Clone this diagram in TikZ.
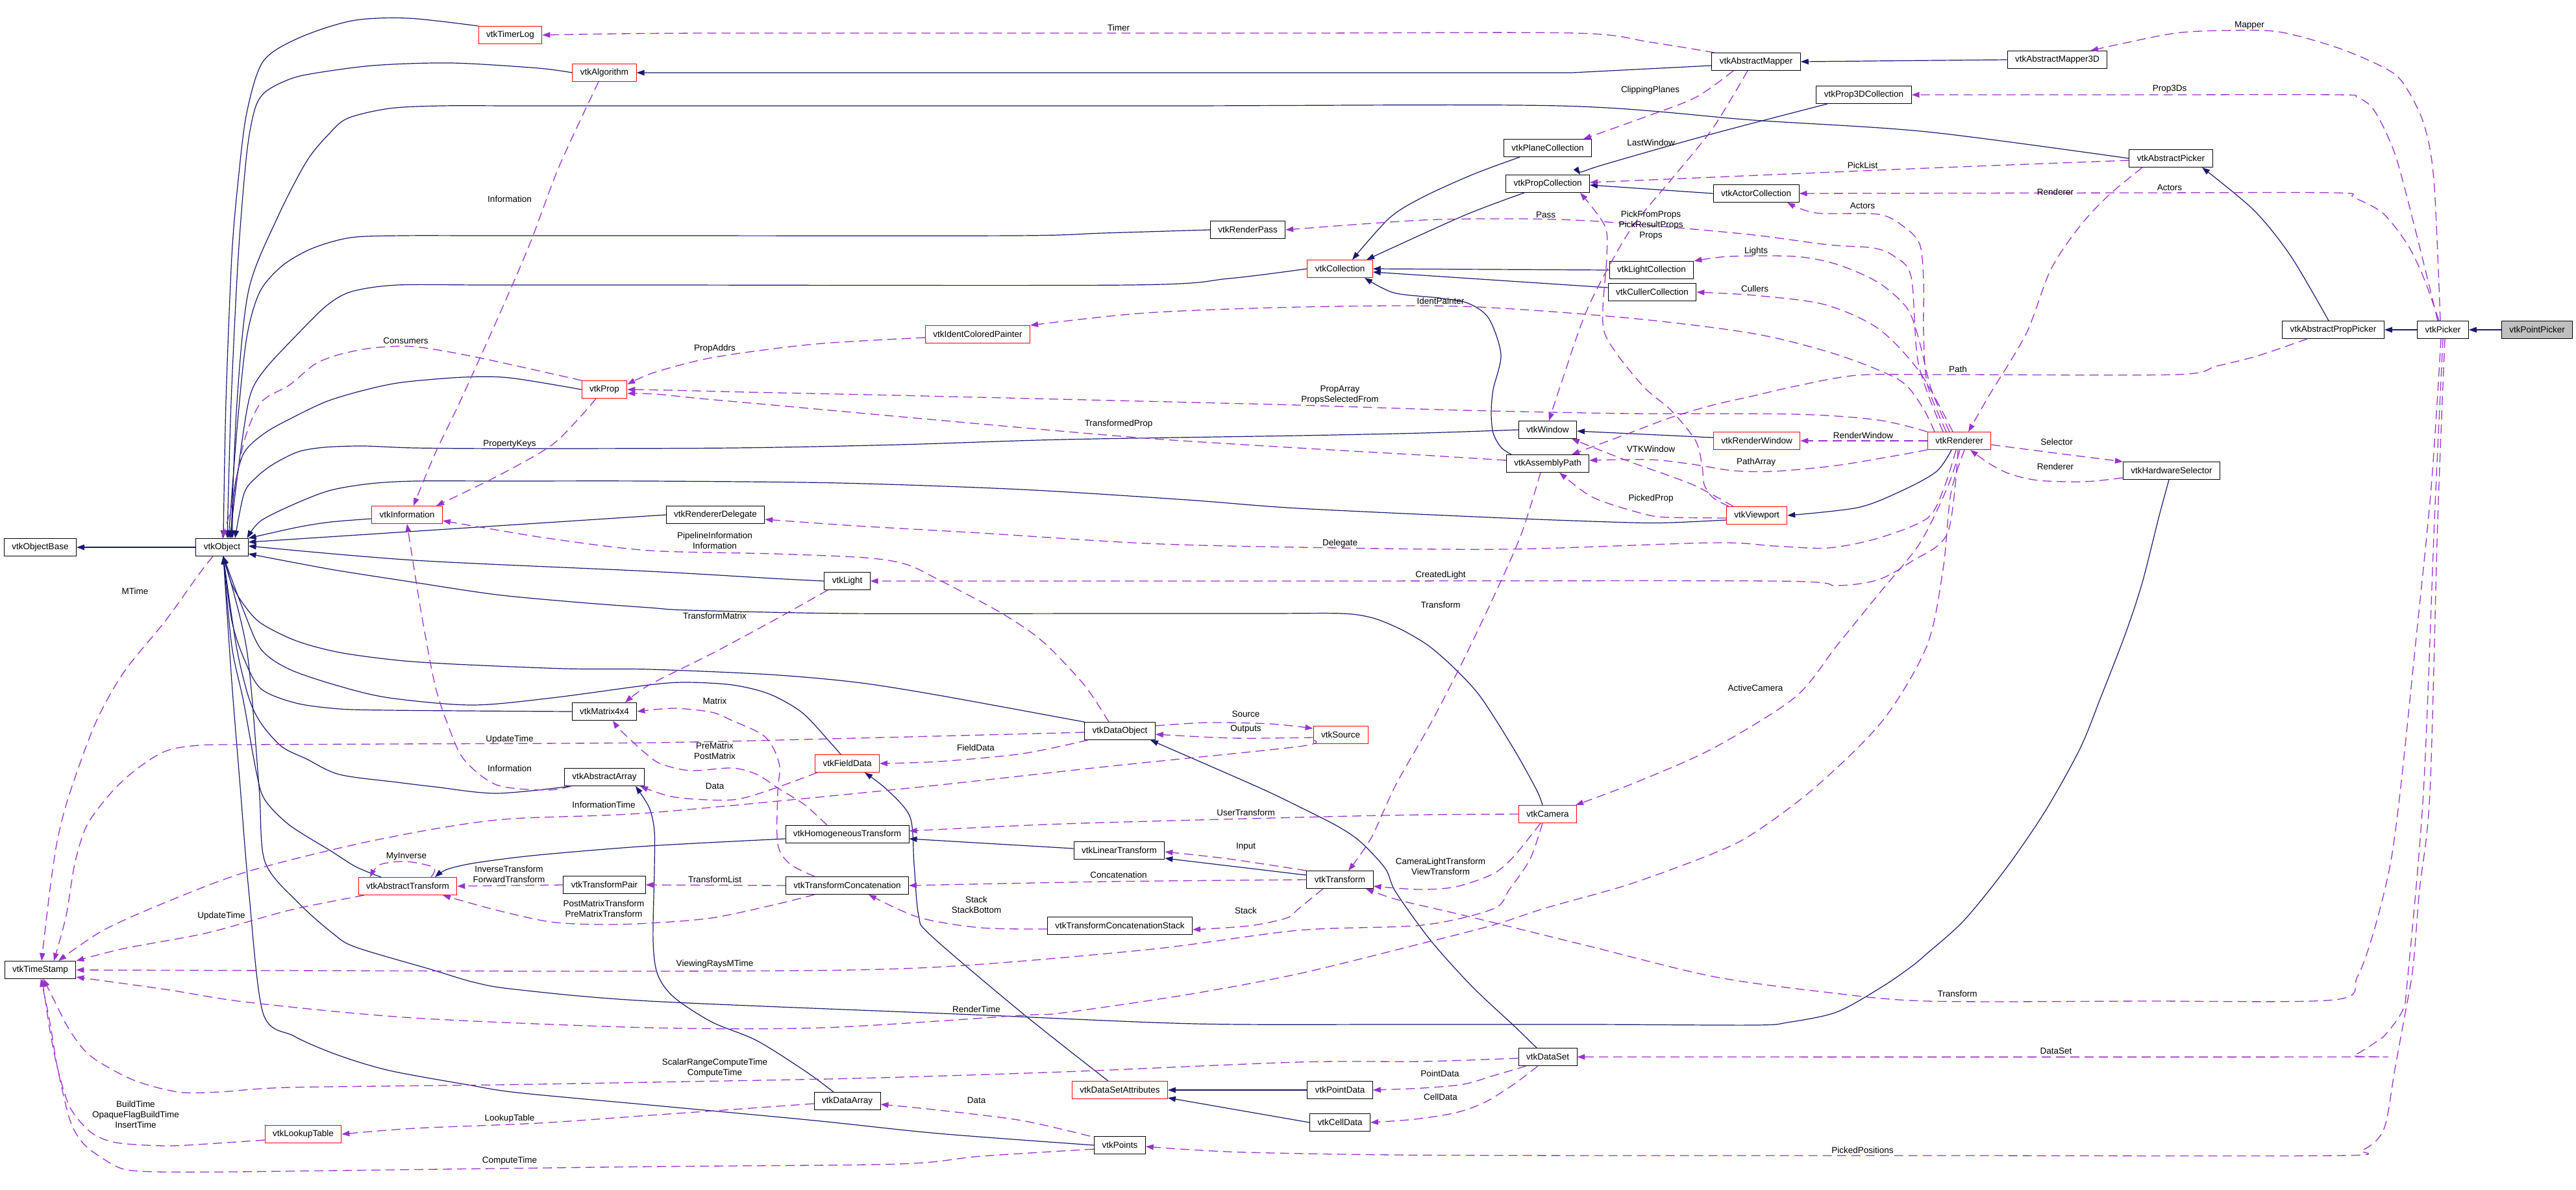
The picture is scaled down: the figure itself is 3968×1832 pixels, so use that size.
\documentclass[tikz,border=0pt]{standalone}
\usepackage{fontspec}
\setmainfont{Liberation Sans}
\usetikzlibrary{arrows.meta}
\definecolor{navy}{HTML}{191970}
\definecolor{orchid}{HTML}{9A32CD}
\definecolor{leafgray}{HTML}{BFBFBF}

\begin{document}
\begin{tikzpicture}[ x = 1pt, y = -1pt
                     , font = \fontsize{13.5}{16}\selectfont
                     , >={Triangle[length=12pt, width=8.5pt]}
                     , cls/.style = { rectangle
                                    , draw = black
                                    , line width = 0.9pt
                                    , minimum height = 27pt
                                    , inner xsep = 12pt
                                    , inner ysep = 0pt }
                     , redcls/.style = {cls, draw = red}
                     , inherit/.style = {draw = navy, line width = 1.2pt, ->}
                     , uses/.style = { draw = orchid
                                     , line width = 1.3pt
                                     , dash pattern = on 14pt off 8pt
                                     , -> }
                     , lbl/.style = {align = center, inner sep = 0pt}
                     ]
  \useasboundingbox (0,0) rectangle (3968,1832);

  %%
  %% Classes
  %%
  \node[cls]    (objbase)        at (62,843)    {vtkObjectBase};
  \node[cls]    (object)         at (342,843)   {vtkObject};
  \node[redcls] (timerlog)       at (786,54)    {vtkTimerLog};
  \node[redcls] (algorithm)      at (931,112)   {vtkAlgorithm};
  \node[redcls] (prop)           at (931,600)   {vtkProp};
  \node[redcls] (information)    at (627,793)   {vtkInformation};
  \node[cls]    (matrix)         at (931,1096)  {vtkMatrix4x4};
  \node[cls]    (absarray)       at (931,1197)  {vtkAbstractArray};
  \node[cls]    (renderpass)     at (1922,354)  {vtkRenderPass};
  \node[redcls] (identpainter)   at (1506,515)  {vtkIdentColoredPainter};
  \node[cls]    (absmapper)      at (2705,95)   {vtkAbstractMapper};
  \node[cls]    (prop3dcoll)     at (2871,146)  {vtkProp3DCollection};
  \node[cls]    (planecoll)      at (2384,228)  {vtkPlaneCollection};
  \node[cls]    (propcoll)       at (2384,283)  {vtkPropCollection};
  \node[cls]    (actorcoll)      at (2705,298)  {vtkActorCollection};
  \node[redcls] (collection)     at (2064,414)  {vtkCollection};
  \node[cls]    (lightcoll)      at (2544,416)  {vtkLightCollection};
  \node[cls]    (cullercoll)     at (2545,450)  {vtkCullerCollection};
  \node[cls]    (absmapper3d)    at (3169,92)   {vtkAbstractMapper3D};
  \node[cls]    (abspicker)      at (3344,244)  {vtkAbstractPicker};
  \node[cls]    (abspproppicker) at (3594,508)  {vtkAbstractPropPicker};
  \node[cls]    (picker)         at (3763,508)  {vtkPicker};
  \node[cls, fill = leafgray] (pointpicker) at (3908,508) {vtkPointPicker};
  \node[cls]    (delegate)       at (1102,793)  {vtkRendererDelegate};
  \node[cls]    (light)          at (1305,895)  {vtkLight};
  \node[cls]    (dataobject)     at (1725,1126) {vtkDataObject};
  \node[redcls] (fielddata)      at (1305,1176) {vtkFieldData};
  \node[cls]    (window)         at (2384,662)  {vtkWindow};
  \node[redcls] (renderwindow)   at (2706,679)  {vtkRenderWindow};
  \node[cls]    (assemblypath)   at (2384,714)  {vtkAssemblyPath};
  \node[redcls] (viewport)       at (2706,794)  {vtkViewport};
  \node[redcls] (source)         at (2065,1132) {vtkSource};
  \node[redcls] (renderer)       at (3018,679)  {vtkRenderer};
  \node[cls]    (hwselector)     at (3345,725)  {vtkHardwareSelector};
  \node[redcls] (abstransform)   at (628,1365)  {vtkAbstractTransform};
  \node[cls]    (transformpair)  at (931,1363)  {vtkTransformPair};
  \node[cls]    (timestamp)      at (62,1494)   {vtkTimeStamp};
  \node[redcls] (lookuptable)    at (467,1747)  {vtkLookupTable};
  \node[cls]    (homogtransform) at (1305,1285) {vtkHomogeneousTransform};
  \node[cls]    (lineartransform) at (1724,1310) {vtkLinearTransform};
  \node[cls]    (transconcat)    at (1305,1364) {vtkTransformConcatenation};
  \node[cls]    (concatstack)    at (1725,1426) {vtkTransformConcatenationStack};
  \node[redcls] (datasetattr)    at (1725,1679) {vtkDataSetAttributes};
  \node[cls]    (dataarray)      at (1305,1696) {vtkDataArray};
  \node[cls]    (points)         at (1725,1764) {vtkPoints};
  \node[redcls] (camera)         at (2384,1254) {vtkCamera};
  \node[cls]    (transform)      at (2064,1355) {vtkTransform};
  \node[cls]    (dataset)        at (2384,1628) {vtkDataSet};
  \node[cls]    (pointdata)      at (2064,1679) {vtkPointData};
  \node[cls]    (celldata)       at (2064,1729) {vtkCellData};

  %%
  %% Inheritance (solid)
  %%
  \draw[inherit] (object.west) -- (objbase.east);
  \draw[inherit] plot[smooth] coordinates {(timerlog.north west) (628,28) (542,32) (459,59) (405,95) (380,174) (367,277) (357,395) (348,620) ([xshift=2pt]object.north)};
  \draw[inherit] plot[smooth] coordinates {(algorithm.west) (829,105) (695,97) (574,101) (472,115) (434,127) (406,144) (392,170) (380,237) (367,395) (356,620) ([xshift=8pt]object.north)};
  \draw[inherit] plot[smooth] coordinates {(abspicker.west) (2968,203) (2700,185) (2402,163) (1800,163) (1000,163) (800,163) (680,163) (600,167) (536,182) (507,206) (472,249) (427,336) (383,447) (365,620) ([xshift=14pt]object.north)};
  \draw[inherit] plot[smooth] coordinates {(renderpass.west) (1700,359) (1561,363) (1000,363) (750,363) (620,363) (540,366) (480,383) (434,410) (400,450) (380,520) (366,650) ([xshift=10pt]object.north)};
  \draw[inherit] plot[smooth] coordinates {(collection.west) (1893,429) (1739,439) (1000,439) (750,439) (612,439) (542,449) (504,470) (459,514) (408,569) (385,610) (370,700) ([xshift=12pt]object.north)};
  \draw[inherit] plot[smooth] coordinates {(prop.west) (785,582) (714,581) (619,589) (561,601) (504,618) (453,642) (408,667) (375,699) (360,760) ([xshift=16pt]object.north)};
  \draw[inherit] plot[smooth] coordinates {(window.west) (2191,667) (2000,671) (1638,677) (1383,685) (1128,690) (800,691) (640,690) (560,687) (500,689) (459,696) (421,715) (395,735) (376,760) ([xshift=20pt]object.north)};
  \draw[inherit] plot[smooth] coordinates {([yshift=-7pt]viewport.west) (2574,805) (2513,805) (2319,798) (2000,783) (1829,770) (1574,754) (1293,744) (1000,741) (780,741) (640,741) (570,745) (510,755) (459,774) (402,802) ([xshift=-2pt]object.north east)};
  \draw[inherit] plot[smooth] coordinates {([yshift=-6pt]information.west) (510,804) (459,812) (object.north east)};
  \draw[inherit] (delegate.west) -- ([yshift=-6pt]object.north east);
  \draw[inherit] plot[smooth] coordinates {(light.west) (1191,891) (1000,880) (638,863) ([yshift=2pt]object.east)};
  \draw[inherit] plot[smooth] coordinates {([xshift=-8pt]camera.north) (2367,1217) (2332,1154) (2281,1074) (2242,1031) (2201,995) (2159,970) (2115,952) (2067,945) (1950,945) (1700,945) (1309,945) (1064,940) (1000,936) (893,928) (765,916) (638,897) (510,877) ([yshift=-10pt]object.east)};
  \draw[inherit] plot[smooth] coordinates {(dataobject.north west) (1446,1071) (1319,1051) (1185,1039) (1000,1031) (871,1030) (700,1023) (612,1017) (523,1005) (456,987) (402,960) (376,932) (357,900) ([xshift=2pt]object.south)};
  \draw[inherit] plot[smooth] coordinates {(matrix.west) (720,1095) (600,1094) (523,1092) (456,1083) (402,1061) (376,1015) (357,956) ([xshift=2pt]object.south)};
  \draw[inherit] plot[smooth] coordinates {([xshift=-10pt]fielddata.north) (1281,1146) (1236,1098) (1185,1069) (1128,1055) (1057,1051) (1000,1055) (850,1075) (727,1086) (600,1075) (523,1057) (446,1031) (402,1000) (375,940) ([xshift=2pt]object.south)};
  \draw[inherit] plot[smooth] coordinates {([xshift=-51pt]absarray.south) (765,1222) (670,1212) (612,1205) (523,1193) (472,1169) (434,1150) (402,1114) (383,1074) (364,995) ([xshift=2pt]object.south)};
  \draw[inherit] plot[smooth] coordinates {([xshift=-41pt]abstransform.north) (548,1335) (510,1311) (446,1271) (408,1232) (395,1190) (375,1080) (357,995) ([xshift=2pt]object.south)};
  \draw[inherit] plot[smooth] coordinates {(points.west) (1446,1746) (1255,1726) (1000,1702) (797,1683) (721,1671) (600,1649) (520,1625) (453,1596) (405,1560) (383,1370) (370,1212) (357,1050) ([xshift=2pt]object.south)};
  \draw[inherit] plot[smooth] coordinates {([xshift=-4pt]hwselector.south) (3325,798) (3300,897) (3274,976) (3236,1074) (3204,1153) (3150,1250) (3089,1339) (3025,1418) (2968,1469) (2944,1489) (2899,1520) (2829,1559) (2753,1575) (2702,1579) (2450,1578) (2150,1578) (1842,1577) (1500,1563) (1000,1542) (794,1524) (730,1513) (663,1493) (548,1459) (513,1438) (459,1390) (408,1327) (399,1212) (380,1000) ([xshift=2pt]object.south)};
  \draw[inherit] ([yshift=-6pt]absmapper.west) -- (2421,112) -- (algorithm.east);
  \draw[inherit] (absmapper3d.west) -- (absmapper.east);
  \draw[inherit] plot[smooth] coordinates {([xshift=-43pt]planecoll.south) (2268,269) (2191,304) (2140,336) ([xshift=19pt]collection.north)};
  \draw[inherit] plot[smooth] coordinates {([xshift=-36pt]propcoll.south) (2255,332) ([xshift=41pt]collection.north)};
  \draw[inherit] plot[smooth] coordinates {([xshift=-56pt]prop3dcoll.south) (2631,208) (2459,257) ([xshift=50pt]propcoll.north)};
  \draw[inherit] (actorcoll.west) -- ([yshift=-2pt]propcoll.east);
  \draw[inherit] (lightcoll.west) -- (collection.east);
  \draw[inherit] ([yshift=7pt]cullercoll.west) -- ([yshift=-5pt]collection.east);
  \draw[inherit] plot[smooth] coordinates {([xshift=-56pt]assemblypath.north) (2312,689) (2300,667) (2297,636) (2300,600) (2312,546) (2293,490) (2261,467) (2217,459) (2147,451) ([xshift=38pt]collection.south)};
  \draw[inherit] ([yshift=5pt]renderwindow.west) -- ([yshift=-2pt]window.east);
  \draw[inherit] plot[smooth] coordinates {([xshift=-12pt]renderer.south) (2982,727) (2925,758) (2861,782) (viewport.east)};
  \draw[inherit] plot[smooth] coordinates {([xshift=-7pt]abspproppicker.north) (3529,395) (3472,324) ([xshift=48pt]abspicker.south)};
  \draw[inherit] (picker.west) -- (abspproppicker.east);
  \draw[inherit] (pointpicker.west) -- (picker.east);
  \draw[inherit] plot[smooth] coordinates {([yshift=-7pt]homogtransform.west) (1000,1303) (829,1317) (733,1329) (689,1339) ([xshift=42pt]abstransform.north)};
  \draw[inherit] ([yshift=3pt]lineartransform.west) -- ([yshift=-7pt]homogtransform.east);
  \draw[inherit] ([yshift=7pt]transform.west) -- ([yshift=-12pt]lineartransform.east);
  \draw[inherit] plot[smooth] coordinates {([xshift=-21pt]dataarray.north) (1242,1651) (1166,1603) (1096,1574) (1038,1536) (1013,1501) (1006,1449) (1008,1340) (1008,1280) (1000,1244) ([xshift=48pt]absarray.south)};
  \draw[inherit] plot[smooth] coordinates {([xshift=-18pt]datasetattr.north) (1574,1560) (1434,1441) (1415,1410) (1408,1331) (1402,1259) (1367,1217) ([xshift=27pt]fielddata.south)};
  \draw[inherit] (pointdata.west) -- (datasetattr.east);
  \draw[inherit] (celldata.west) -- ([yshift=-12pt]datasetattr.east);
  \draw[inherit] plot[smooth] coordinates {([xshift=-17pt]dataset.north) (2332,1580) (2268,1520) (2204,1449) (2150,1374) (2134,1338) (2096,1297) (2061,1273) (2000,1242) (1937,1212) ([xshift=47pt]dataobject.south)};

  %%
  %% Usage (dashed), arrow points at the used class
  %%
  \draw[uses] plot[smooth] coordinates {([xshift=-64pt]absmapper.north) (2542,65) (2427,51) (2000,51) (1500,51) (1100,51) (950,52) (timerlog.east)};
  \draw[uses] plot[smooth] coordinates {([xshift=-35pt]absmapper.south) (2612,150) (2529,182) ([xshift=55pt]planecoll.north)};
  \draw[uses] plot[smooth] coordinates {([xshift=-13pt]absmapper.south) (2638,198) (2574,277) (2510,356) (2446,474) (2405,590) ([xshift=2pt]window.north)};
  \draw[uses] plot[smooth] coordinates {([xshift=-4pt]picker.north) (3749,277) (3733,189) (3701,127) (3670,103) (3599,73) (3510,49) (3427,47) (3351,51) (3265,68) ([xshift=51pt]absmapper3d.north)};
  \draw[uses] plot[smooth] coordinates {([xshift=-8pt]picker.north) (3721,356) (3689,237) (3657,170) (3631,150) (3599,146) (3300,146) (prop3dcoll.east)};
  \draw[uses] plot[smooth] coordinates {([xshift=-6pt]picker.north) (3733,427) (3708,376) (3670,328) (3625,304) (3599,297) (3300,297) (actorcoll.east)};
  \draw[uses] plot[smooth] coordinates {([xshift=-44pt]abspicker.south) (3249,300) (3204,348) (3159,415) (3121,514) (3064,609) ([xshift=14pt]renderer.north)};
  \draw[uses] plot[smooth] coordinates {([yshift=-3pt]abspicker.west) (2968,259) (2638,273) ([yshift=2pt]propcoll.east)};
  \draw[uses] plot[smooth] coordinates {([xshift=-43pt]viewport.north) (2638,766) (2625,746) (2622,719) (2612,679) (2574,632) (2536,600) (2497,554) (2472,514) (2469,474) (2475,395) (2472,348) ([xshift=50pt]propcoll.south)};
  \draw[uses] plot[smooth] coordinates {([xshift=-20pt]renderer.north) (2969,593) (2963,514) (2963,435) (2957,376) (2931,348) (2893,330) (2797,328) ([xshift=48pt]actorcoll.south)};
  \draw[uses] plot[smooth] coordinates {([xshift=-25pt]renderer.north) (2955,560) (2944,427) (2918,395) (2886,382) (2816,377) (2702,362) (2574,350) (2446,340) (2338,337) (2191,339) (renderpass.east)};
  \draw[uses] plot[smooth] coordinates {([xshift=-15pt]renderer.north) (2975,600) (2955,520) (2937,474) (2893,435) (2829,407) (2765,395) (2663,395) (lightcoll.north east)};
  \draw[uses] plot[smooth] coordinates {([xshift=-10pt]renderer.north) (2957,573) (2893,506) (2810,469) (2703,455) (cullercoll.east)};
  \draw[uses] plot[smooth] coordinates {([xshift=-38pt]renderer.north) (2960,625) (2925,585) (2829,546) (2702,514) (2510,490) (2255,472) (2000,473) (1765,482) (identpainter.north east)};
  \draw[uses] plot[smooth] coordinates {([yshift=-5pt]identpainter.west) (1255,530) (1102,550) (1010,573) ([yshift=8pt]prop.east)};
  \draw[uses] plot[smooth] coordinates {([xshift=-35pt]prop.north) (733,550) (638,534) (574,536) (523,546) (485,561) (446,593) (402,620) (376,680) (357,778) (object.north)};
  \draw[uses] plot[smooth] coordinates {([xshift=-13pt]prop.south) (893,643) (848,687) (765,734) ([xshift=45pt]information.north)};
  \draw[uses] plot[smooth] coordinates {([xshift=-9pt]algorithm.south) (861,257) (816,376) (765,494) (708,620) (670,699) ([xshift=10pt]information.north)};
  \draw[uses] plot[smooth] coordinates {(renderer.north west) (2893,647) (2765,638) (2510,637) (2255,632) (2000,624) (1842,620) (1383,609) (1150,604) (1030,601) (prop.east)};
  \draw[uses] plot[smooth] coordinates {([yshift=5pt]assemblypath.west) (2191,701) (2000,690) (1765,675) (1510,653) (1191,624) (1080,614) (1010,607) ([yshift=-6pt]prop.east)};
  \draw[uses] plot[smooth] coordinates {([xshift=-36pt]viewport.north) (2606,746) (2510,711) ([xshift=37pt]window.south)};
  \draw[uses] (renderer.west) -- (renderwindow.east);
  \draw[uses] plot[smooth] coordinates {(renderer.south west) (2925,701) (2829,717) (2733,726) (2670,725) (2606,715) (2542,708) ([yshift=5pt]assemblypath.east)};
  \draw[uses] plot[smooth] coordinates {([yshift=-4pt]viewport.west) (2574,797) (2542,794) (2485,778) (2446,762) ([xshift=18pt]assemblypath.south)};
  \draw[uses] plot[smooth] coordinates {([xshift=-40pt]abspproppicker.south) (3478,548) (3414,564) (3351,577) (3000,577) (2861,578) (2765,595) (2700,610) (2638,624) (2574,643) (2510,667) ([xshift=37pt]assemblypath.north)};
  \draw[uses] plot[smooth] coordinates {([xshift=-11pt]assemblypath.south) (2344,821) (2306,908) (2255,1015) (2204,1114) (2150,1209) (2112,1291) ([xshift=13pt]transform.north)};
  \draw[uses] plot[smooth] coordinates {([xshift=-5pt]renderer.south) (2995,750) (2969,798) (2893,829) (2816,844) (2733,841) (2638,836) (2319,846) (2000,843) (1765,837) (1510,821) (1319,810) ([yshift=-7pt]delegate.east)};
  \draw[uses] plot[smooth] coordinates {([xshift=-2pt]renderer.south) (3000,821) (2944,865) (2893,893) (2829,902) (2733,895) (2000,895) (light.east)};
  \draw[uses] plot[smooth] coordinates {([xshift=1pt]renderer.south) (3000,750) (2957,837) (2893,916) (2829,995) (2765,1074) (2638,1153) (2520,1205) ([xshift=43pt]camera.north)};
  \draw[uses] plot[smooth] coordinates {([xshift=8pt]renderer.south) (3005,760) (2993,877) (2968,995) (2900,1110) (2797,1212) (2702,1283) (2638,1315) (2510,1362) (2383,1398) (2300,1425) (2191,1453) (2000,1500) (1829,1532) (1638,1560) (1574,1564) (1268,1583) (1000,1583) (638,1568) (383,1544) (255,1524) ([yshift=-11pt]timestamp.east)};
  \draw[uses] plot[smooth] coordinates {([xshift=-8pt]camera.south) (2357,1323) (2325,1370) (2300,1400) (2191,1425) (2000,1433) (1765,1463) (1415,1491) (1000,1496) (timestamp.east)};
  \draw[uses] plot[smooth] coordinates {([xshift=-11pt]camera.south) (2332,1319) (2300,1346) (2242,1366) (2185,1370) ([yshift=-10pt]transform.east)};
  \draw[uses] plot[smooth] coordinates {(camera.west) (2191,1255) (2000,1259) (1638,1269) ([yshift=5pt]homogtransform.east)};
  \draw[uses] plot[smooth] coordinates {([xshift=-3pt]picker.south) (3745,750) (3720,1000) (3698,1212) (3682,1331) (3657,1433) (3631,1505) (3596,1540) (3300,1542) (2968,1542) (2810,1528) (2638,1504) (2446,1457) (2255,1410) (2153,1386) ([xshift=40pt]transform.south)};
  \draw[uses] plot[smooth] coordinates {(picker.south) (3750,800) (3733,1220) (3708,1513) (3701,1556) (3676,1592) (3657,1607) (3625,1626) (3600,1628) (dataset.east)};
  \draw[uses] plot[smooth] coordinates {([xshift=3pt]picker.south) (3755,800) (3743,1220) (3727,1370) (3717,1489) (3705,1560) (3689,1647) (3676,1726) (3663,1754) (3638,1772) (3599,1780) (3000,1780) (2500,1780) (2150,1779) (1920,1775) (1820,1770) ([yshift=-2pt]points.east)};
  \draw[uses] plot[smooth] coordinates {([xshift=-33pt]dataset.south) (2300,1657) (2255,1670) (2191,1676) (pointdata.east)};
  \draw[uses] plot[smooth] coordinates {([xshift=-15pt]dataset.south) (2332,1670) (2287,1698) (2242,1714) (2179,1724) (celldata.east)};
  \draw[uses] plot[smooth] coordinates {([yshift=-2pt]dataset.west) (2191,1635) (2000,1636) (1638,1651) (1319,1661) (1000,1667) (765,1671) (446,1675) (338,1682) (274,1682) (204,1663) (140,1627) (108,1588) (83,1540) ([xshift=5pt]timestamp.south)};
  \draw[uses] plot[smooth] coordinates {([xshift=-46pt]points.north) (1574,1726) (1446,1710) ([yshift=-5pt]dataarray.east)};
  \draw[uses] plot[smooth] coordinates {([yshift=-4pt]dataarray.west) (1128,1709) (1000,1718) (829,1730) (638,1738) (lookuptable.east)};
  \draw[uses] plot[smooth] coordinates {([yshift=-9pt]lookuptable.west) (319,1762) (255,1765) (179,1760) (140,1744) (108,1706) (89,1647) (77,1588) ([xshift=3pt]timestamp.south)};
  \draw[uses] plot[smooth] coordinates {([yshift=-6pt]points.west) (1510,1781) (1383,1793) (1000,1797) (600,1802) (360,1805) (242,1805) (191,1801) (159,1785) (128,1761) (108,1726) (89,1647) (76,1570) ([xshift=1pt]timestamp.south)};
  \draw[uses] plot[smooth] coordinates {([xshift=-14pt]object.south) (306,885) (255,956) (191,1035) (147,1114) (108,1220) (89,1291) (77,1370) ([xshift=2pt]timestamp.north)};
  \draw[uses] plot[smooth] coordinates {([yshift=-2pt]dataobject.west) (1319,1137) (1000,1144) (600,1146) (380,1147) (306,1148) (255,1157) (210,1185) (172,1220) (134,1271) (115,1331) (102,1410) ([xshift=21pt]timestamp.north)};
  \draw[uses] plot[smooth] coordinates {([yshift=-8pt]source.west) (2000,1150) (1702,1181) (1400,1214) (1000,1252) (765,1263) (574,1295) (383,1342) (255,1390) (159,1433) ([xshift=28pt]timestamp.north)};
  \draw[uses] plot[smooth] coordinates {([xshift=-67pt]abstransform.south) (446,1402) (319,1437) (191,1461) (timestamp.north east)};
  \draw[uses] plot[smooth] coordinates {([yshift=8pt]dataobject.east) (1861,1113) (1957,1115) ([yshift=10pt]source.west)};
  \draw[uses] plot[smooth] coordinates {([yshift=-4pt]source.west) (1900,1137) ([yshift=-5pt]dataobject.east)};
  \draw[uses] plot[smooth] coordinates {([xshift=-49pt]dataobject.south) (1574,1161) (1446,1173) (fielddata.east)};
  \draw[uses] plot[smooth] coordinates {([xshift=-17pt]dataobject.north) (1670,1055) (1606,988) (1542,944) (1446,893) (1395,869) (1332,859) (1191,853) (1000,848) (850,830) (740,812) ([yshift=-9pt]information.east)};
  \draw[uses] plot[smooth] coordinates {([xshift=-51pt]absarray.south) (842,1217) (765,1209) (714,1169) (689,1114) (670,1055) (651,956) (638,877) (information.south)};
  \draw[uses] plot[smooth] coordinates {([xshift=-46pt]fielddata.south) (1191,1215) (1128,1232) (1040,1228) ([xshift=55pt]absarray.south)};
  \draw[uses] plot[smooth] coordinates {([xshift=-30pt]light.south) (1191,956) (1096,1007) (1000,1055) ([xshift=32pt]matrix.north)};
  \draw[uses] plot[smooth] coordinates {([xshift=-31pt]homogtransform.north) (1240,1240) (1200,1215) (1166,1193) (1128,1183) (1064,1187) (1019,1177) (995,1161) (957,1126) ([xshift=13pt]matrix.south)};
  \draw[uses] plot[smooth] coordinates {([xshift=-50pt]transconcat.north) (1217,1331) (1198,1300) (1198,1220) (1201,1181) (1190,1150) (1172,1130) (1128,1110) (1096,1097) (1038,1091) (matrix.east)};
  \draw[uses] plot[smooth] coordinates {([xshift=-50pt]transconcat.south) (1191,1394) (1096,1414) (1000,1422) (925,1424) (848,1420) (765,1402) ([xshift=54pt]abstransform.south)};
  \draw[uses] (transconcat.west) -- (transformpair.east);
  \draw[uses] (transformpair.west) -- (abstransform.east);
  \draw[uses] plot[smooth] coordinates {([xshift=36pt]abstransform.north) (668,1336) (625,1327) (585,1332) ([xshift=-58pt]abstransform.north)};
  \draw[uses] plot[smooth] coordinates {(transform.north west) (1893,1323) ([yshift=-2pt]lineartransform.east)};
  \draw[uses] plot[smooth] coordinates {(transform.west) (1702,1358) (transconcat.east)};
  \draw[uses] plot[smooth] coordinates {([xshift=-26pt]transform.south) (2000,1400) (1982,1414) (1925,1426) ([yshift=-6pt]concatstack.east)};
  \draw[uses] plot[smooth] coordinates {([yshift=-5pt]concatstack.west) (1510,1429) (1415,1413) ([xshift=33pt]transconcat.south)};
  \draw[uses] plot[smooth] coordinates {([yshift=-6pt]renderer.east) (3159,697) (hwselector.north west)};
  \draw[uses] plot[smooth] coordinates {([yshift=-11pt]hwselector.west) (3210,742) (3140,740) (3096,730) (3064,714) ([xshift=17pt]renderer.south)};

  %%
  %% Member names
  %%
  \node[lbl] (lTimer)      at (1723,43)   {Timer};
  \node[lbl] (lClip)       at (2542,139)  {ClippingPlanes};
  \node[lbl] (lLastWin)    at (2543,220)  {LastWindow};
  \node[lbl] (lMapper)     at (3465,39)   {Mapper};
  \node[lbl] (lProp3Ds)    at (3342,137)  {Prop3Ds};
  \node[lbl] (lPickList)   at (2869,255)  {PickList};
  \node[lbl] (lActorsP)    at (3342,289)  {Actors};
  \node[lbl] (lRendererP)  at (3166,296)  {Renderer};
  \node[lbl] (lActorsR)    at (2869,317)  {Actors};
  \node[lbl] (lPass)       at (2381,331)  {Pass};
  \node[lbl] (lPickProps)  at (2543,347)  {PickFromProps\\PickResultProps\\Props};
  \node[lbl] (lLights)     at (2705,387)  {Lights};
  \node[lbl] (lCullers)    at (2703,445)  {Cullers};
  \node[lbl] (lIdent)      at (2219,464)  {IdentPainter};
  \node[lbl] (lPropAddrs)  at (1101,537)  {PropAddrs};
  \node[lbl] (lConsumers)  at (625,525)   {Consumers};
  \node[lbl] (lInfoAlg)    at (785,307)   {Information};
  \node[lbl] (lPath)       at (3016,569)  {Path};
  \node[lbl] (lPropArray)  at (2064,608)  {PropArray\\PropsSelectedFrom};
  \node[lbl] (lTransProp)  at (1723,653)  {TransformedProp};
  \node[lbl] (lRenWin)     at (2870,671)  {RenderWindow};
  \node[lbl] (lSelector)   at (3168,681)  {Selector};
  \node[lbl] (lPropKeys)   at (785,684)   {PropertyKeys};
  \node[lbl] (lVTKWin)     at (2543,692)  {VTKWindow};
  \node[lbl] (lPathArray)  at (2705,712)  {PathArray};
  \node[lbl] (lRendererH)  at (3166,719)  {Renderer};
  \node[lbl] (lPickedProp) at (2543,768)  {PickedProp};
  \node[lbl] (lPipeInfo)   at (1101,833)  {PipelineInformation\\Information};
  \node[lbl] (lDelegate)   at (2064,837)  {Delegate};
  \node[lbl] (lCreated)    at (2219,886)  {CreatedLight};
  \node[lbl] (lMTime)      at (208,911)   {MTime};
  \node[lbl] (lTransAP)    at (2219,932)  {Transform};
  \node[lbl] (lTransMat)   at (1101,949)  {TransformMatrix};
  \node[lbl] (lActiveCam)  at (2704,1060) {ActiveCamera};
  \node[lbl] (lMatrix)     at (1101,1080) {Matrix};
  \node[lbl] (lSource)     at (1919,1100) {Source};
  \node[lbl] (lOutputs)    at (1919,1123) {Outputs};
  \node[lbl] (lUpdDO)      at (785,1139)  {UpdateTime};
  \node[lbl] (lFieldData)  at (1503,1152) {FieldData};
  \node[lbl] (lPrePost)    at (1101,1157) {PreMatrix\\PostMatrix};
  \node[lbl] (lInfoArr)    at (785,1184)  {Information};
  \node[lbl] (lData)       at (1101,1211) {Data};
  \node[lbl] (lInfoTime)   at (930,1240)  {InformationTime};
  \node[lbl] (lUserT)      at (1919,1252) {UserTransform};
  \node[lbl] (lInput)      at (1919,1304) {Input};
  \node[lbl] (lMyInv)      at (626,1319)  {MyInverse};
  \node[lbl] (lCamLight)   at (2219,1335) {CameraLightTransform\\ViewTransform};
  \node[lbl] (lInvFwd)     at (784,1347)  {InverseTransform\\ForwardTransform};
  \node[lbl] (lConcat)     at (1723,1348) {Concatenation};
  \node[lbl] (lTList)      at (1101,1355) {TransformList};
  \node[lbl] (lStackSB)    at (1504,1394) {Stack\\StackBottom};
  \node[lbl] (lPostPre)    at (930,1400)  {PostMatrixTransform\\PreMatrixTransform};
  \node[lbl] (lStack)      at (1919,1403) {Stack};
  \node[lbl] (lUpdAT)      at (341,1411)  {UpdateTime};
  \node[lbl] (lViewRays)   at (1101,1485) {ViewingRaysMTime};
  \node[lbl] (lTransPk)    at (3015,1531) {Transform};
  \node[lbl] (lRenderTime) at (1504,1555) {RenderTime};
  \node[lbl] (lDataSet)    at (3167,1619) {DataSet};
  \node[lbl] (lScalar)     at (1101,1645) {ScalarRangeComputeTime\\ComputeTime};
  \node[lbl] (lPointData)  at (2218,1654) {PointData};
  \node[lbl] (lCellData)   at (2219,1690) {CellData};
  \node[lbl] (lDataPts)    at (1504,1695) {Data};
  \node[lbl] (lBuild)      at (209,1717)  {BuildTime\\OpaqueFlagBuildTime\\InsertTime};
  \node[lbl] (lLUT)        at (785,1723)  {LookupTable};
  \node[lbl] (lPickedPos)  at (2869,1772) {PickedPositions};
  \node[lbl] (lCompute)    at (785,1788)  {ComputeTime};
\end{tikzpicture}
\end{document}
